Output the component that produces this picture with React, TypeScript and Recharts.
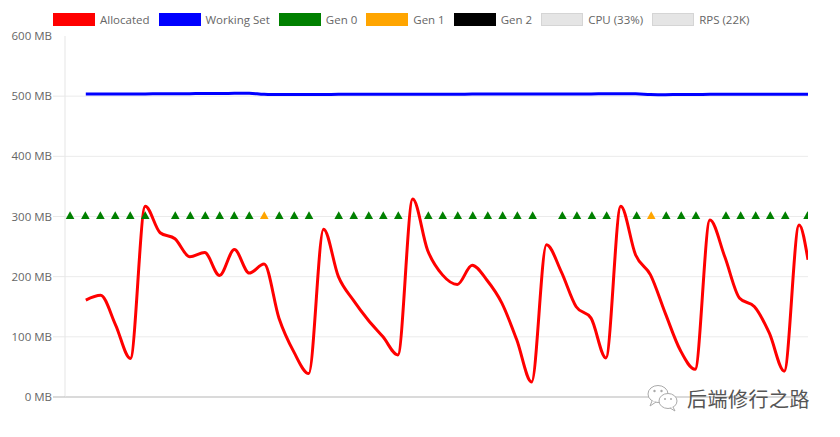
import React from 'react';
import { ComposedChart, Line, Scatter, XAxis, YAxis, CartesianGrid, Legend } from 'recharts';

// sample times in seconds, one reading per second
const seconds = [
  1.4, 2.4, 3.4, 4.4, 5.4, 6.4, 7.4, 8.4, 9.4, 10.4,
  11.4, 12.4, 13.4, 14.4, 15.4, 16.4, 17.4, 18.4, 19.4, 20.4,
  21.4, 22.4, 23.4, 24.4, 25.4, 26.4, 27.4, 28.4, 29.4, 30.4,
  31.4, 32.4, 33.4, 34.4, 35.4, 36.4, 37.4, 38.4, 39.4, 40.4,
  41.4, 42.4, 43.4, 44.4, 45.4, 46.4, 47.4, 48.4, 49.4, 50,
];

const allocatedMb = [
  161, 169, 120, 64, 317, 273, 263, 233, 240, 202,
  245, 206, 221, 131, 75, 39, 279, 200, 161, 128,
  100, 70, 329, 244, 203, 187, 219, 194, 156, 95,
  25, 253, 208, 150, 131, 65, 317, 236, 203, 139,
  78, 46, 294, 233, 164, 150, 106, 43, 286, 228,
];

const workingSetMb = [
  503.5, 503.5, 503.8, 503.8, 503.8, 504, 504, 504.2, 504.5, 504.5,
  504.7, 505, 503, 502.8, 502.8, 502.8, 502.8, 503, 503, 503,
  503, 503, 503, 503.2, 503.2, 503.2, 503.4, 503.4, 503.4, 503.5,
  503.5, 503.5, 503.5, 503.8, 503.8, 504, 504, 504, 502.8, 502.5,
  502.8, 502.8, 503, 503, 503, 503, 503, 503, 503, 503,
];

const gen0Times = [
  0.34, 1.37, 2.38, 3.38, 4.39, 5.4, 7.42, 8.43, 9.44, 10.41,
  11.39, 12.4, 14.42, 15.43, 16.42, 18.42, 19.43, 20.44, 21.42, 22.43,
  24.45, 25.42, 26.43, 27.44, 28.45, 29.45, 30.44, 31.47, 33.47, 34.45,
  35.46, 36.45, 38.47, 40.46, 41.47, 42.46, 44.48, 45.47, 46.48, 47.46,
  48.47, 49.97,
];
const gen1Times = [13.41, 39.45];
const gen2Times: number[] = [];
const gcMarkerMb = 300;

const yTicks = [0, 100, 200, 300, 400, 500, 600];

const legendItems = [
  { label: 'Allocated', fill: '#ff0000', border: 'rgba(255,0,0,0.5)' },
  { label: 'Working Set', fill: '#0000ff', border: 'rgba(0,0,255,0.5)' },
  { label: 'Gen 0', fill: '#008000', border: 'rgba(0,128,0,0.5)' },
  { label: 'Gen 1', fill: '#ffa500', border: 'rgba(255,165,0,0.5)' },
  { label: 'Gen 2', fill: '#000000', border: 'rgba(0,0,0,0.5)' },
  { label: 'CPU (33%)', fill: '#e5e5e5', border: '#d5d5d5' },
  { label: 'RPS (22K)', fill: '#e5e5e5', border: '#d5d5d5' },
];

const memoryData = seconds.map((t, i) => ({
  t,
  allocated: allocatedMb[i],
  workingSet: workingSetMb[i],
}));
const toMarkers = (times: number[]) => times.map((t) => ({ t, mb: gcMarkerMb }));

const FONT = "'Segoe UI', 'Open Sans', sans-serif";

function Triangle({ cx, cy, fill }: { cx?: number; cy?: number; fill: string }) {
  if (cx == null || cy == null) return null;
  return (
    <polygon
      points={`${cx},${cy - 5.3} ${cx - 4.3},${cy + 2.4} ${cx + 4.3},${cy + 2.4}`}
      fill={fill}
    />
  );
}

function YTick(props: any) {
  const { x, y, payload } = props;
  const v = payload.value;
  return (
    <g>
      {v !== 600 && (
        <line x1={x} x2={x + 12} y1={y} y2={y} stroke={v === 0 ? '#b5b5b5' : '#e8e8e8'} />
      )}
      <text x={x - 1} y={y} dy={4} textAnchor="end" fill="#666" fontSize={11.5} fontFamily={FONT}>
        {`${v} MB`}
      </text>
    </g>
  );
}

function LegendRow() {
  return (
    <div
      style={{
        display: 'flex',
        alignItems: 'center',
        height: 36,
        paddingTop: 2,
        paddingLeft: 53,
        boxSizing: 'border-box',
        fontFamily: FONT,
        fontSize: 11.5,
        color: '#666',
      }}
    >
      {legendItems.map((item) => (
        <div key={item.label} style={{ display: 'flex', alignItems: 'center', marginRight: 9 }}>
          <span
            style={{
              display: 'inline-block',
              width: 42,
              height: 13,
              boxSizing: 'border-box',
              background: item.fill,
              border: `1px solid ${item.border}`,
              marginRight: 5,
            }}
          />
          <span>{item.label}</span>
        </div>
      ))}
    </div>
  );
}

function Watermark() {
  return (
    <div
      style={{
        position: 'absolute',
        left: 646,
        top: 382,
        display: 'flex',
        alignItems: 'center',
        background: 'transparent',
      }}
    >
      <svg width={36} height={32} viewBox="0 0 36 32">
        <ellipse cx={12} cy={12} rx={10} ry={8.5} fill="#fff" stroke="#aaa" strokeWidth={1} />
        <path d="M6 19 L4 24 L10 20" fill="#fff" stroke="#aaa" strokeWidth={1} />
        <circle cx={8.5} cy={9} r={1.2} fill="#aaa" />
        <circle cx={15.5} cy={9} r={1.2} fill="#aaa" />
        <ellipse cx={22} cy={19} rx={9} ry={7.5} fill="#fff" stroke="#aaa" strokeWidth={1} />
        <path d="M27 25 L29 29 L24 26" fill="#fff" stroke="#aaa" strokeWidth={1} />
        <circle cx={19} cy={17} r={1} fill="#aaa" />
        <circle cx={25} cy={17} r={1} fill="#aaa" />
      </svg>
      <span
        style={{
          marginLeft: 5,
          fontFamily: "'Noto Sans CJK SC', sans-serif",
          fontSize: 20,
          color: '#555',
          letterSpacing: 0.5,
        }}
      >
        后端修行之路
      </span>
    </div>
  );
}

export default function App() {
  return (
    <div style={{ position: 'absolute', left: 0, top: 0, width: 840, height: 437, background: '#fff' }}>
      <ComposedChart width={840} height={437} margin={{ top: 0, right: 32, bottom: 0, left: 0 }}>
        <Legend verticalAlign="top" align="left" wrapperStyle={{ left: 0, top: 0, width: 840 }} content={() => <LegendRow />} />
        <CartesianGrid vertical={false} stroke="#ebebeb" horizontalValues={[100, 200, 300, 400, 500]} />
        <XAxis
          type="number"
          dataKey="t"
          domain={[0, 50]}
          allowDataOverflow
          tick={false}
          tickLine={false}
          axisLine={{ stroke: '#b5b5b5' }}
          height={40}
        />
        <YAxis
          type="number"
          domain={[0, 600]}
          ticks={yTicks}
          width={65}
          tickSize={12}
          tickMargin={0}
          tickLine={false}
          axisLine={{ stroke: '#e5e5e5' }}
          tick={<YTick />}
        />
        <Scatter
          name="Gen 0"
          data={toMarkers(gen0Times)}
          dataKey="mb"
          isAnimationActive={false}
          shape={(p: any) => <Triangle cx={p.cx} cy={p.cy} fill="#008000" />}
        />
        <Scatter
          name="Gen 1"
          data={toMarkers(gen1Times)}
          dataKey="mb"
          isAnimationActive={false}
          shape={(p: any) => <Triangle cx={p.cx} cy={p.cy} fill="#ffa500" />}
        />
        <Scatter
          name="Gen 2"
          data={toMarkers(gen2Times)}
          dataKey="mb"
          isAnimationActive={false}
          shape={(p: any) => <Triangle cx={p.cx} cy={p.cy} fill="#000000" />}
        />
        <Line
          data={memoryData}
          dataKey="workingSet"
          type="monotone"
          stroke="#0000ff"
          strokeWidth={3}
          dot={false}
          isAnimationActive={false}
        />
        <Line
          data={memoryData}
          dataKey="allocated"
          type="monotone"
          stroke="#ff0000"
          strokeWidth={3}
          dot={false}
          isAnimationActive={false}
        />
      </ComposedChart>
      <Watermark />
    </div>
  );
}
